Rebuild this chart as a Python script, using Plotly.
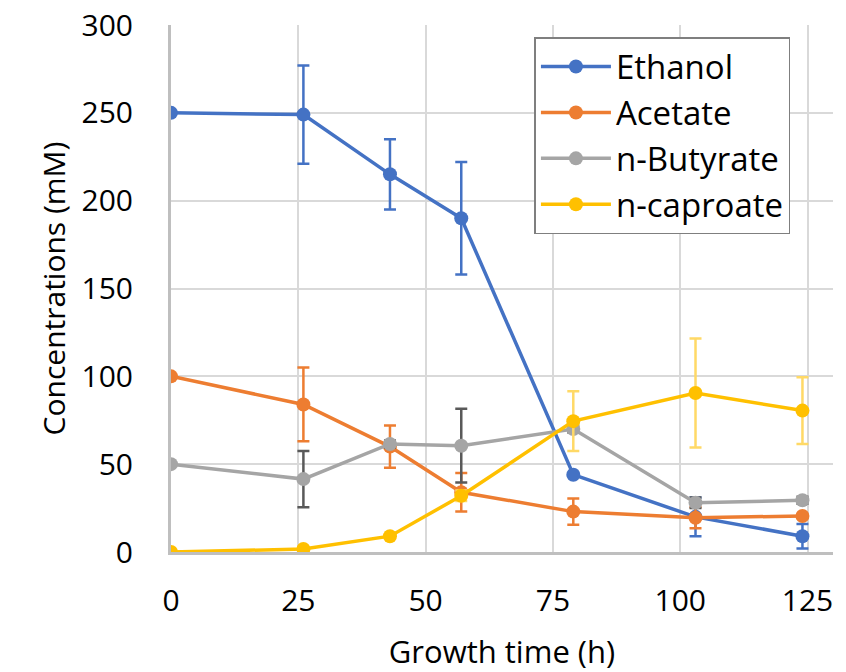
import plotly.graph_objects as go

time_h = [0, 26, 43, 57, 79, 103, 124]

ethanol = [250, 249, 215, 190, 44, 20, 9]
ethanol_err = [0, 28, 20, 32, 0, 11, 7]

acetate = [100, 84, 60, 34, 23, 19.5, 20.5]
acetate_err = [0, 21, 12, 11, 7.5, 6, 0]

butyrate = [50, 41.5, 61.5, 60.5, 70, 28, 29.5]
butyrate_err = [0, 16, 2, 21, 2, 3, 2]

caproate = [0, 1.7, 9, 32, 74.5, 90.5, 80.5]
caproate_err = [0, 0, 0, 3, 17, 31, 19]

series = [
    ("Ethanol", ethanol, ethanol_err, "#4472C4", "#4472C4"),
    ("Acetate", acetate, acetate_err, "#ED7D31", "#ED7D31"),
    ("n-Butyrate", butyrate, butyrate_err, "#A5A5A5", "#595959"),
    ("n-caproate", caproate, caproate_err, "#FFC000", "#FFD966"),
]

fig = go.Figure()
for name, vals, errs, col, ecol in series:
    fig.add_trace(go.Scatter(
        x=time_h, y=vals, name=name, mode="lines+markers",
        line=dict(color=col, width=3.5),
        marker=dict(color=col, size=14),
        error_y=dict(type="data", array=errs, visible=True,
                     color=ecol, thickness=2.5, width=6),
    ))

font_family = "Open Sans, Noto Sans, sans-serif"
fig.update_layout(
    width=846, height=672,
    margin=dict(l=171, r=13, t=25, b=120),
    paper_bgcolor="white", plot_bgcolor="white",
    font=dict(family=font_family, color="black", size=30),
    showlegend=True,
    legend=dict(
        x=0.549, y=0.977, xanchor="left", yanchor="top",
        bgcolor="white", bordercolor="#7f7f7f", borderwidth=1.5,
        font=dict(size=33, family=font_family),
        tracegroupgap=0, itemwidth=70,
    ),
    xaxis=dict(
        range=[0, 130], tick0=0, dtick=25, automargin=False,
        showgrid=True, gridcolor="#D9D9D9", gridwidth=2,
        showline=True, linecolor="#BFBFBF", linewidth=3,
        zeroline=False, ticks="", ticklen=0,
        tickfont=dict(size=30), title=dict(text="Growth time (h)", font=dict(size=31), standoff=26),
        fixedrange=True,
    ),
    yaxis=dict(
        range=[0, 300], tick0=0, dtick=50, automargin=False,
        showgrid=True, gridcolor="#D9D9D9", gridwidth=2,
        showline=True, linecolor="#BFBFBF", linewidth=3,
        zeroline=False, ticks="outside", ticklen=29, tickcolor="rgba(0,0,0,0)",
        tickfont=dict(size=30), title=dict(text="Concentrations (mM)", font=dict(size=30), standoff=8),
        fixedrange=True,
    ),
)
fig.update_xaxes(ticklabelstandoff=20)

fig.write_html("out.html")
